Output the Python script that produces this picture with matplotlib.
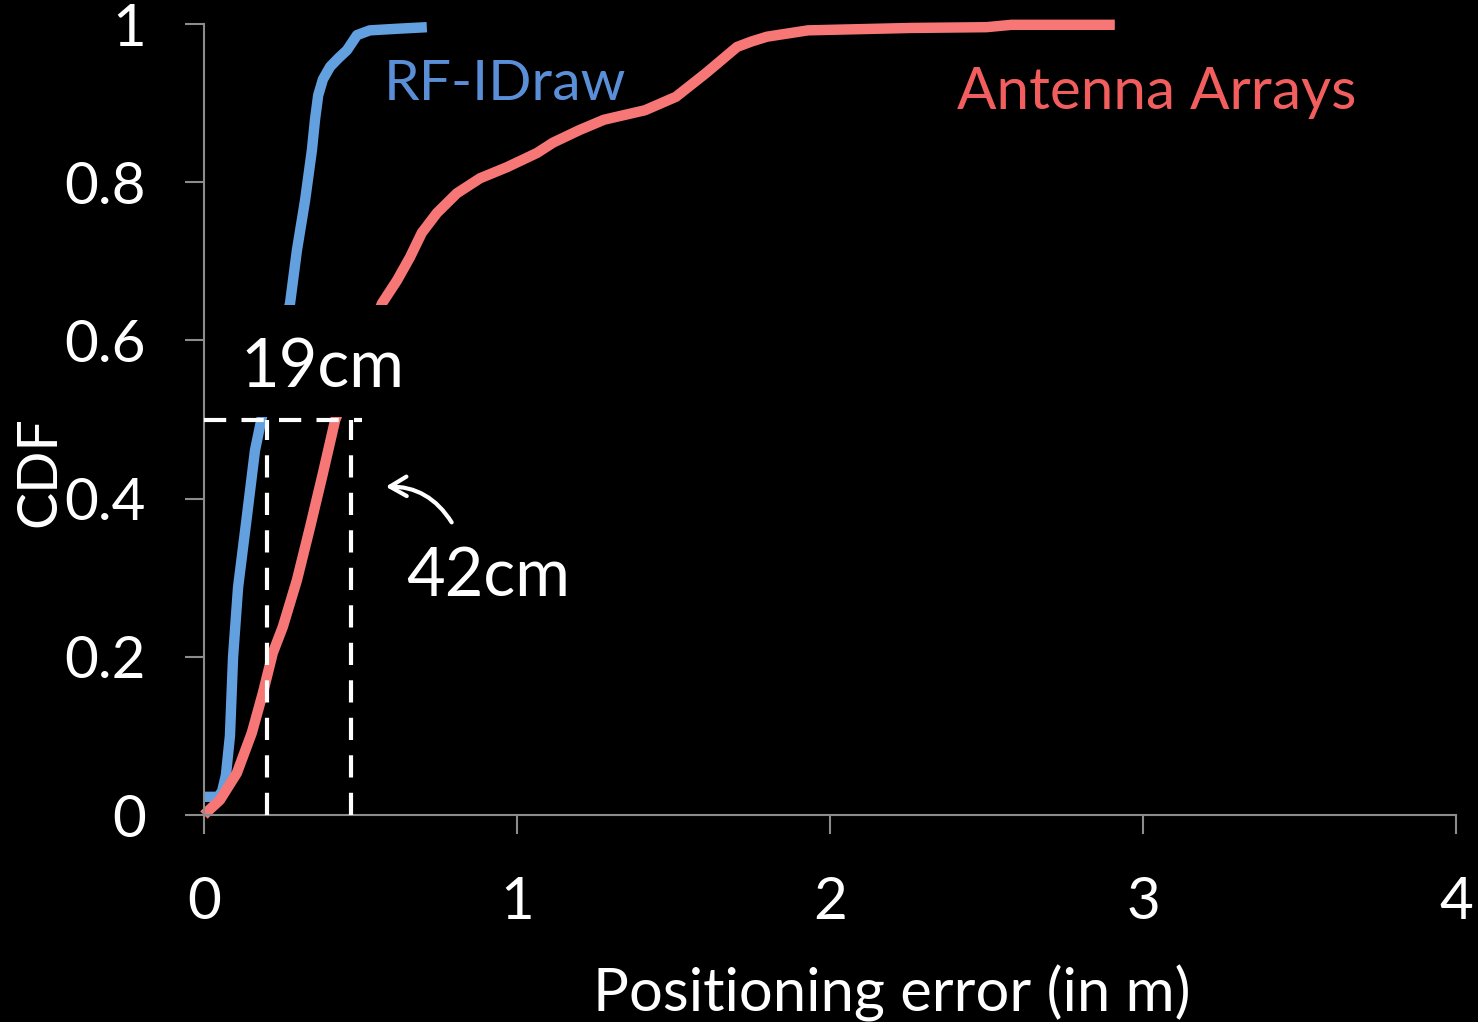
import matplotlib
matplotlib.use("Agg")
import matplotlib.pyplot as plt
from matplotlib.patches import Rectangle, FancyArrowPatch

plt.rcParams['font.family'] = ['Lato', 'DejaVu Sans']
plt.rcParams['lines.scale_dashes'] = False

# CDF of positioning error
rf_x = [0.0, 0.045, 0.058, 0.070, 0.083, 0.093, 0.109, 0.137, 0.163, 0.185,
        0.275, 0.297, 0.323, 0.345, 0.355, 0.365, 0.380, 0.403, 0.430, 0.457,
        0.489, 0.530, 0.617, 0.712]
rf_y = [0.023, 0.023, 0.030, 0.050, 0.100, 0.200, 0.288, 0.377, 0.461, 0.503,
        0.647, 0.714, 0.777, 0.841, 0.880, 0.910, 0.930, 0.946, 0.957, 0.967,
        0.986, 0.992, 0.994, 0.996]

aa_x = [0.0, 0.010, 0.051, 0.105, 0.153, 0.188, 0.220, 0.252, 0.297, 0.339, 0.380, 0.419,
        0.569, 0.617, 0.658, 0.696, 0.744, 0.808, 0.882, 0.968, 1.064, 1.115, 1.200, 1.278,
        1.409, 1.508, 1.604, 1.703, 1.750, 1.799, 1.930, 2.256, 2.500, 2.580, 2.910]
aa_y = [0.0, 0.004, 0.019, 0.053, 0.104, 0.154, 0.205, 0.238, 0.297, 0.364, 0.432, 0.499,
        0.647, 0.676, 0.705, 0.736, 0.761, 0.786, 0.805, 0.819, 0.837, 0.850, 0.866, 0.879,
        0.891, 0.908, 0.938, 0.971, 0.978, 0.984, 0.992, 0.995, 0.996, 0.999, 0.999]

# medians marked with dashed lines
median_level = 0.5
rf_median = 0.20
aa_median = 0.47

x_ticks = [0, 1, 2, 3, 4]
y_ticks = [0, 0.2, 0.4, 0.6, 0.8, 1]
y_tick_labels = ['0', '0.2', '0.4', '0.6', '0.8', '1']

blue = '#62A0E0'
red = '#F77777'
grey = '#8C8C8C'

fig = plt.figure(figsize=(14.78, 10.22), dpi=100, facecolor='black')
ax = fig.add_axes([0.138, 0.2025, 0.8471, 0.774])
ax.set_facecolor('black')

ax.plot(rf_x, rf_y, color=blue, lw=7.5, zorder=2, clip_on=False, solid_capstyle='butt')
ax.plot(aa_x, aa_y, color=red, lw=7.5, zorder=2.1, clip_on=False, solid_capstyle='butt')

# black box behind the "19cm" label hides part of the curves
ax.add_patch(Rectangle((0.015, 0.503), 0.64, 0.142, facecolor='black',
                       edgecolor='none', zorder=3))

dash = dict(color='white', lw=3, dashes=(16, 11), zorder=4)
ax.plot([0, aa_median + 0.035], [median_level, median_level], **dash)
ax.plot([rf_median, rf_median], [0, median_level], **dash)
ax.plot([aa_median, aa_median], [0, median_level], **dash)

ax.text(0.38, 0.565, '19cm', color='white', fontsize=48, ha='center', va='center', zorder=5)
ax.text(0.908, 0.301, '42cm', color='white', fontsize=48, ha='center', va='center', zorder=5)
ax.add_patch(FancyArrowPatch((0.796, 0.367), (0.572, 0.415),
                             connectionstyle='arc3,rad=0.3', arrowstyle='->,head_length=0.6,head_width=0.35',
                             color='white', lw=3, mutation_scale=20, zorder=5))

ax.text(0.962, 0.923, 'RF-IDraw', color='#5A8FD8', fontsize=41, ha='center', va='center')
ax.text(3.045, 0.914, 'Antenna Arrays', color='#F25E5E', fontsize=42, ha='center', va='center')

ax.set_xlim(0, 4)
ax.set_ylim(0, 1)
ax.set_xticks(x_ticks)
ax.set_yticks(y_ticks)
ax.set_yticklabels(y_tick_labels)

for s in ['top', 'right']:
    ax.spines[s].set_visible(False)
for s in ['left', 'bottom']:
    ax.spines[s].set_color(grey)
    ax.spines[s].set_linewidth(1.5)

ax.tick_params(axis='both', direction='out', length=14, width=1.5, color=grey,
               labelcolor='white', labelsize=42)
ax.tick_params(axis='y', pad=28)
ax.tick_params(axis='x', pad=30)

ax.set_ylabel('CDF', color='white', fontsize=40)
ax.yaxis.set_label_coords(-0.131, 0.434)
ax.set_xlabel('Positioning error (in m)', color='white', fontsize=43)
ax.xaxis.set_label_coords(0.549, -0.225)
ax.xaxis.label.set_va('center')
ax.yaxis.label.set_va('center')

fig.savefig('out.png', dpi=100, facecolor='black')
